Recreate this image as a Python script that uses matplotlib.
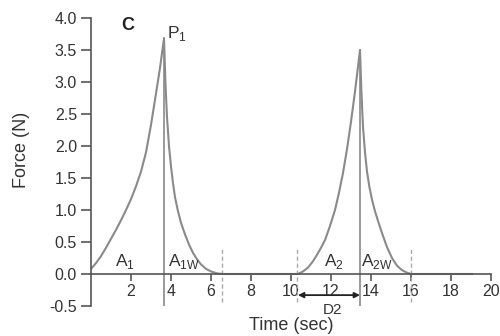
import matplotlib
matplotlib.use("Agg")
import matplotlib.pyplot as plt

plt.rcParams["font.family"] = ["Liberation Sans", "DejaVu Sans"]

# force trace (sec, N)
time_s = [0.0, 0.25, 0.5, 0.75, 1.0, 1.25, 1.5, 1.75, 2.0, 2.25, 2.5, 2.75,
          3.0, 3.25, 3.45, 3.65,
          3.72, 3.8, 3.9, 4.0, 4.1, 4.2, 4.35, 4.5, 4.7, 4.9, 5.1, 5.3,
          5.5, 5.75, 6.0, 6.3, 6.6,
          10.35, 10.6, 10.85, 11.1, 11.3, 11.5, 11.7, 11.95, 12.2, 12.4,
          12.6, 12.8, 13.0, 13.2, 13.45,
          13.52, 13.6, 13.7, 13.8, 13.92, 14.05, 14.2, 14.4, 14.55, 14.8,
          15.05, 15.3, 15.55, 15.8, 16.0, 19.05]
force_n = [0.08, 0.17, 0.28, 0.41, 0.55, 0.69, 0.84, 1.0, 1.17, 1.37, 1.6, 1.9,
           2.33, 2.82, 3.22, 3.68,
           3.0, 2.45, 2.0, 1.68, 1.42, 1.2, 0.98, 0.8, 0.62, 0.46, 0.33, 0.23,
           0.15, 0.08, 0.04, 0.01, 0.0,
           0.0, 0.04, 0.1, 0.2, 0.3, 0.41, 0.53, 0.75, 1.0, 1.27,
           1.58, 1.95, 2.38, 2.85, 3.5,
           2.85, 2.3, 1.9, 1.6, 1.36, 1.16, 0.98, 0.78, 0.64, 0.42,
           0.25, 0.13, 0.06, 0.02, 0.0, 0.0]

peak_times = [3.65, 13.45]
peak_forces = [3.68, 3.5]
peak_line_bottoms = [-0.52, -0.61]
window_times = [6.55, 10.3, 16.0]
d2_start, d2_end = 10.35, 13.45

x_ticks = [2, 4, 6, 8, 10, 12, 14, 16, 18, 20]
y_ticks = [-0.5, 0.0, 0.5, 1.0, 1.5, 2.0, 2.5, 3.0, 3.5, 4.0]

fig = plt.figure(figsize=(5, 3.36), dpi=100)
ax = fig.add_axes([91 / 500, 1 - 306 / 336, 400 / 500, 288 / 336])

curve_color = "#8a8a8a"
axis_color = "#555555"
text_color = "#333333"

ax.plot(time_s, force_n, color=curve_color, lw=1.5)

for t, f, b in zip(peak_times, peak_forces, peak_line_bottoms):
    ax.plot([t, t], [b, f], color=curve_color, lw=1.2)

for t in window_times:
    ax.plot([t, t], [-0.44, 0.42], color="#aaaaaa", lw=1.0, ls=(0, (3, 2)))

ax.annotate("", xy=(d2_start, -0.33), xytext=(d2_end, -0.33),
            arrowprops=dict(arrowstyle="<|-|>", color="#222222", lw=1.3,
                            mutation_scale=8, shrinkA=0, shrinkB=0))
ax.text(12.1, -0.57, "D2", ha="center", va="center", fontsize=11, color=text_color)

ax.text(1.85, 3.88, "C", ha="center", va="center", fontsize=13,
        fontweight="bold", color="#222222")
ax.text(3.8, 3.76, r"P$_\mathregular{1}$", ha="left", va="center", fontsize=12.5,
        color=text_color)
ax.text(1.2, 0.2, r"A$_\mathregular{1}$", ha="left", va="center", fontsize=12.5,
        color=text_color)
ax.text(3.85, 0.2, r"A$_\mathregular{1W}$", ha="left", va="center", fontsize=12.5,
        color=text_color)
ax.text(11.65, 0.2, r"A$_\mathregular{2}$", ha="left", va="center", fontsize=12.5,
        color=text_color)
ax.text(13.5, 0.2, r"A$_\mathregular{2W}$", ha="left", va="center", fontsize=12.5,
        color=text_color)

ax.set_xlim(0, 20)
ax.set_ylim(-0.5, 4.0)
ax.set_xticks(x_ticks)
ax.set_yticks(y_ticks)
ax.set_yticklabels([f"{v:.1f}" for v in y_ticks])

for side in ["top", "right"]:
    ax.spines[side].set_visible(False)
ax.spines["bottom"].set_position(("data", 0))
for side in ["left", "bottom"]:
    ax.spines[side].set_color(axis_color)
    ax.spines[side].set_linewidth(1.2)
ax.tick_params(axis="both", colors=axis_color, labelcolor=text_color,
               labelsize=11.5, width=1.2)
ax.tick_params(axis="y", length=7, pad=3)
ax.tick_params(axis="x", length=5, pad=2)

fig.text(22 / 500, 1 - 150 / 336, "Force (N)", rotation=90, ha="center",
         va="center", fontsize=13, color=text_color)
fig.text(291 / 500, 1 - 325 / 336, "Time (sec)", ha="center", va="center",
         fontsize=13, color=text_color)

fig.savefig("out.png", dpi=100)
